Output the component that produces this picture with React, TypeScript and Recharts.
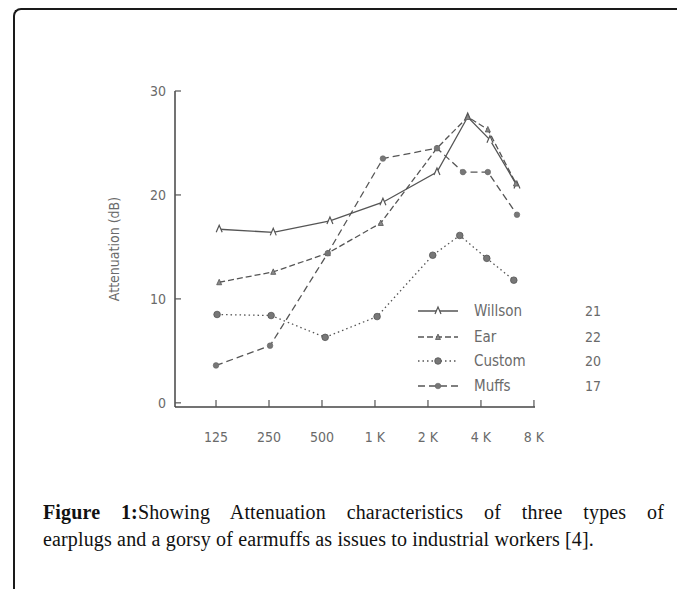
import { LineChart, Line, XAxis, YAxis, Legend } from 'recharts'

// octave index: 0 = 125 Hz ... 6 = 8 kHz
const freqLabels = ['125', '250', '500', '1 K', '2 K', '4 K', '8 K']
const freqTicks = [0, 1, 2, 3, 4, 5, 6]
const dbTicks = [0, 10, 20, 30]

const willsonX = [0.06, 1.08, 2.15, 3.15, 4.17, 4.75, 5.17, 5.68]
const willsonY = [16.7, 16.4, 17.5, 19.3, 22.2, 27.5, 25.3, 20.9]
const earX = [0.06, 1.08, 2.11, 3.11, 4.17, 4.75, 5.13, 5.66]
const earY = [11.6, 12.6, 14.4, 17.3, 24.5, 27.5, 26.3, 21.1]
const customX = [0.02, 1.04, 2.06, 3.04, 4.09, 4.6, 5.11, 5.62]
const customY = [8.5, 8.4, 6.3, 8.3, 14.2, 16.1, 13.9, 11.8]
const muffsX = [0, 1.02, 2.11, 3.15, 4.17, 4.66, 5.13, 5.68]
const muffsY = [3.6, 5.5, 14.4, 23.5, 24.5, 22.2, 22.2, 18.1]

const seriesNames = ['Willson', 'Ear', 'Custom', 'Muffs']
const seriesScores = ['21', '22', '20', '17']

const zip = (xs: number[], ys: number[]) => xs.map((x, i) => ({ x, y: ys[i] }))

const INK = '#555'
const TEXT = '#6a6a6a'
const NARROW = '"Liberation Sans Narrow", "DejaVu Sans Condensed", "Liberation Sans", sans-serif'

const DASH = ['', '6 3', '1.5 3', '7 4']

function Marker({ cx, cy, kind }: { cx: number; cy: number; kind: number }) {
  if (cx == null || cy == null) return null
  if (kind === 0) {
    return <path d={`M${cx - 3},${cy + 3} L${cx},${cy - 4} L${cx + 3},${cy + 3}`} fill="#fff" stroke={INK} strokeWidth={1.2} />
  }
  if (kind === 1) {
    return <path d={`M${cx - 2.5},${cy + 2.5} L${cx},${cy - 3} L${cx + 2.5},${cy + 2.5} Z`} fill="#888" stroke={INK} strokeWidth={0.8} />
  }
  if (kind === 2) {
    return <circle cx={cx} cy={cy} r={3.3} fill="#777" stroke="#555" strokeWidth={0.8} />
  }
  return <circle cx={cx} cy={cy} r={2.8} fill="#777" stroke="#666" strokeWidth={0.6} />
}

function dotFor(kind: number) {
  return (p: any) => <Marker key={`m-${kind}-${p.index}`} cx={p.cx} cy={p.cy} kind={kind} />
}

function renderYTick(props: any) {
  const { x, y, payload } = props
  return (
    <g>
      <line x1={x + 9} x2={x + 15} y1={y} y2={y} stroke={INK} strokeWidth={1.2} />
      <text x={x} y={y} dy={5} textAnchor="end" fontSize={14} fill={TEXT} fontFamily={NARROW}>{payload.value}</text>
    </g>
  )
}

function renderXTick(props: any) {
  const { x, y, payload } = props
  return (
    <g>
      <line x1={x} x2={x} y1={y} y2={y - 7} stroke={INK} strokeWidth={1.2} />
      <text x={x} y={y + 30} dy={5} textAnchor="middle" fontSize={14} fill={TEXT} fontFamily={NARROW}>
        {freqLabels[payload.value]}
      </text>
    </g>
  )
}

function renderYLabel(props: any) {
  const vb = props.viewBox || { x: 115, y: 91, width: 60, height: 316 }
  const cx = vb.x - 1
  const cy = vb.y + vb.height / 2
  return (
    <text x={cx} y={cy} transform={`rotate(-90 ${cx} ${cy})`} textAnchor="middle" dominantBaseline="central"
      fontSize={14} fill={TEXT} fontFamily={NARROW}>
      Attenuation (dB)
    </text>
  )
}

function LegendBox() {
  const rows = [13, 39, 63, 88]
  return (
    <svg width={210} height={100} style={{ display: 'block', overflow: 'visible' }}>
      {seriesNames.map((name, i) => (
        <g key={name}>
          <line x1={13} x2={53} y1={rows[i]} y2={rows[i]} stroke={INK} strokeWidth={1.3} strokeDasharray={DASH[i] || undefined} />
          <Marker cx={33} cy={rows[i]} kind={i} />
          <text x={69} y={rows[i]} dy={5} fontSize={15} fill={TEXT} fontFamily={NARROW}>{name}</text>
          <text x={180} y={rows[i]} dy={5} fontSize={14} fill={TEXT} fontFamily={NARROW}>{seriesScores[i]}</text>
        </g>
      ))}
    </svg>
  )
}

const series = [
  { name: seriesNames[0], data: zip(willsonX, willsonY) },
  { name: seriesNames[1], data: zip(earX, earY) },
  { name: seriesNames[2], data: zip(customX, customY) },
  { name: seriesNames[3], data: zip(muffsX, muffsY) },
]

const captionFont = {
  fontFamily: '"Liberation Serif", "Times New Roman", serif',
  fontSize: 20,
  lineHeight: '27px',
  letterSpacing: 0.15,
  color: '#111',
  whiteSpace: 'nowrap' as const,
}

export default function App() {
  return (
    <div style={{ position: 'absolute', left: 0, top: 0, width: 677, height: 589, overflow: 'hidden', background: '#fff' }}>
      <div style={{
        position: 'absolute', left: 13, top: 8, width: 800, height: 800,
        borderTop: '2px solid #1a1a1a', borderLeft: '2px solid #1a1a1a', borderTopLeftRadius: 8,
      }} />
      <div style={{ position: 'absolute', left: 0, top: 0 }}>
        <LineChart width={677} height={589} margin={{ top: 91, right: 142, bottom: 142, left: 115 }}>
          <XAxis
            type="number"
            dataKey="x"
            domain={[-0.774, 6.02]}
            ticks={freqTicks}
            allowDataOverflow
            height={40}
            tickSize={0}
            tickMargin={0}
            tickLine={false}
            axisLine={{ stroke: '#444', strokeWidth: 1.5 }}
            tick={renderXTick}
            interval={0}
          />
          <YAxis
            type="number"
            dataKey="y"
            domain={[-0.4, 30]}
            ticks={dbTicks}
            allowDataOverflow
            width={60}
            tickSize={0}
            tickMargin={9}
            tickLine={false}
            axisLine={{ stroke: '#444', strokeWidth: 1.5 }}
            tick={renderYTick}
            interval={0}
            label={renderYLabel}
          />
          <Legend
            layout="horizontal"
            verticalAlign="middle"
            align="center"
            content={() => <LegendBox />}
            wrapperStyle={{ left: 405, top: 298, width: 210, height: 100 }}
          />
          {series.map((s, i) => (
            <Line
              key={s.name}
              name={s.name}
              data={s.data}
              dataKey="y"
              type="linear"
              stroke={INK}
              strokeWidth={1.3}
              strokeDasharray={DASH[i] || undefined}
              dot={dotFor(i)}
              activeDot={false}
              isAnimationActive={false}
            />
          ))}
        </LineChart>
      </div>
      <div style={{ ...captionFont, position: 'absolute', left: 43, top: 499, width: 621, textAlign: 'justify', textAlignLast: 'justify' }}>
        <b>Figure 1:</b>Showing Attenuation characteristics of three types of
      </div>
      <div style={{ ...captionFont, position: 'absolute', left: 43, top: 526 }}>
        earplugs and a gorsy of earmuffs as issues to industrial workers [4].
      </div>
    </div>
  )
}
